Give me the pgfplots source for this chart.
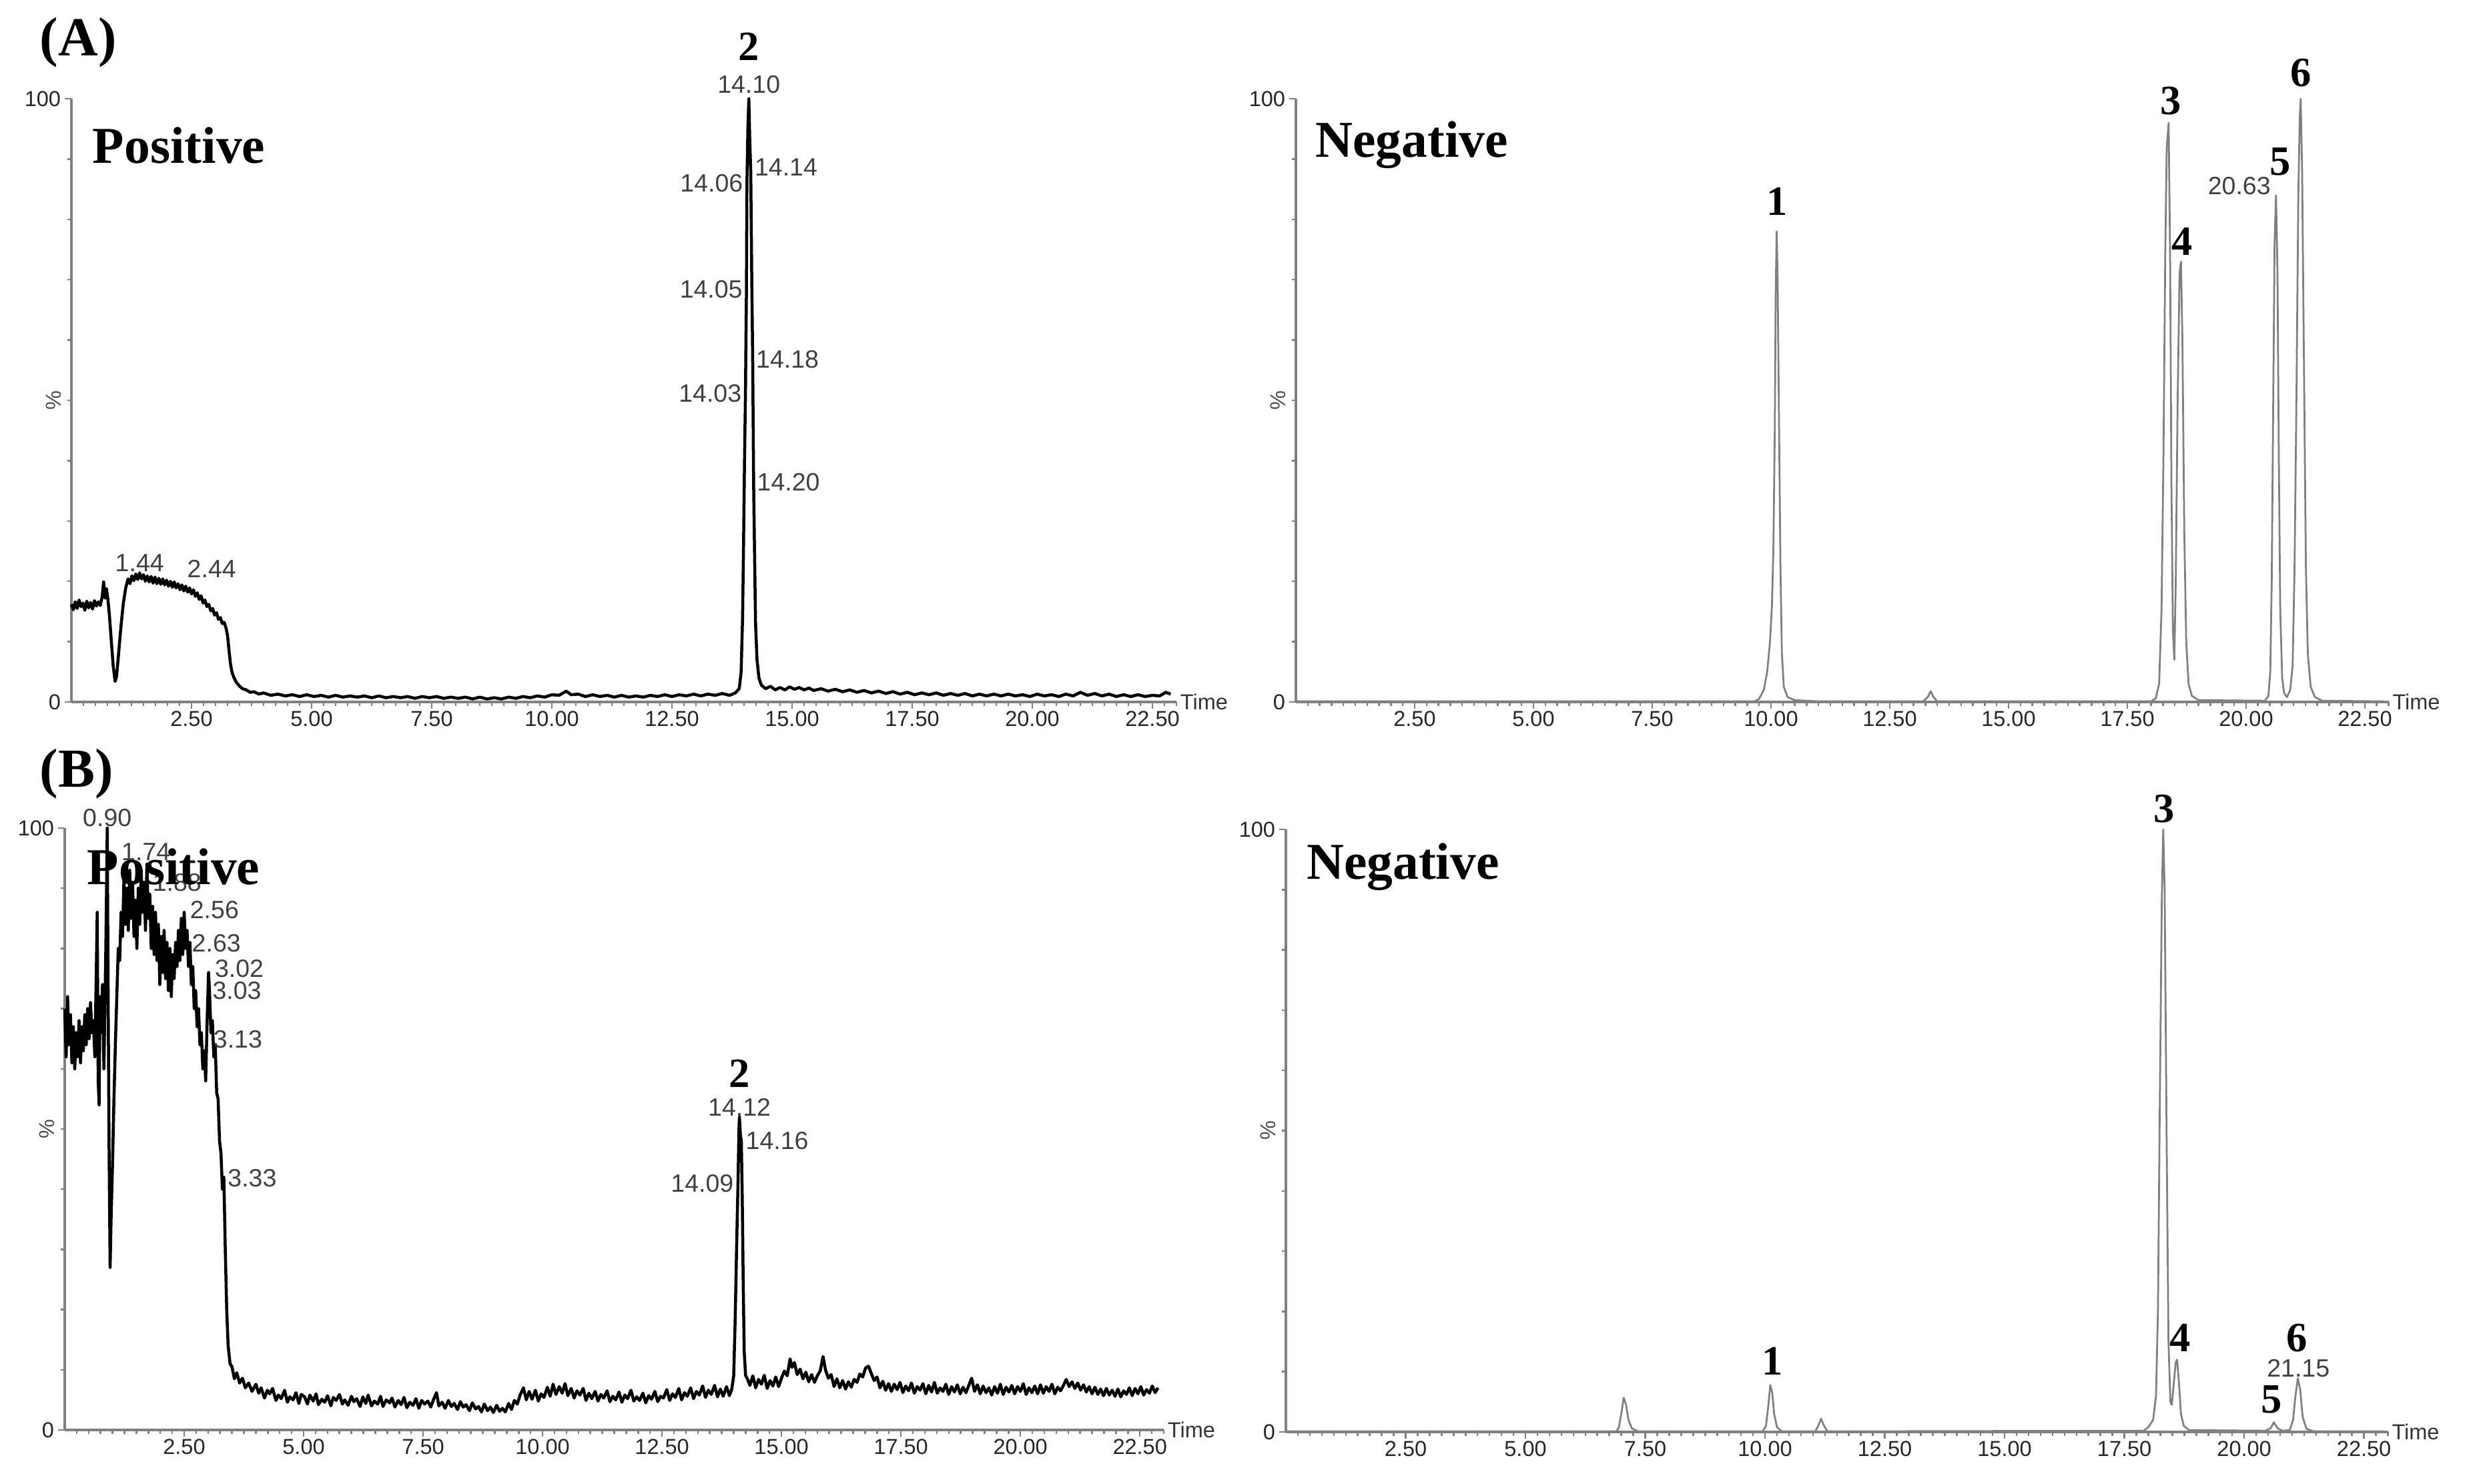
\documentclass[border=0pt]{standalone}
\usepackage{pgfplots}
\pgfplotsset{compat=1.18}
\usepackage{fontspec}
\setmainfont{Liberation Serif}
\setsansfont{Liberation Sans}
\newcommand{\tickfont}{\sffamily\fontsize{6.5}{7}\selectfont}
\newcommand{\annfont}{\sffamily\fontsize{7.5}{8}\selectfont}
\newcommand{\numfont}{\rmfamily\bfseries\fontsize{12.5}{13}\selectfont}
\newcommand{\modefont}{\rmfamily\bfseries\fontsize{15.5}{16}\selectfont}
\definecolor{axgray}{gray}{0.5}
\definecolor{trgray}{gray}{0.5}
\definecolor{anngray}{gray}{0.25}

\tikzset{
  ann/.style={font=\annfont, text=anngray, inner sep=1pt},
  num/.style={font=\numfont, inner sep=0pt},
  modelbl/.style={font=\modefont, anchor=west, inner sep=0pt},
  timelbl/.style={font=\tickfont, text=black!80, anchor=west, inner sep=1pt},
}
\pgfplotsset{
  chrom/.style={
    scale only axis,
    anchor=south west,
    xmin=0, xmax=23, ymin=0, ymax=100,
    axis x line=bottom, axis y line=left,
    axis line style={-, axgray, line width=0.7pt},
    xtick={2.5,5,7.5,10,12.5,15,17.5,20,22.5},
    xticklabels={2.50,5.00,7.50,10.00,12.50,15.00,17.50,20.00,22.50},
    minor xtick={0.25,0.5,...,23},
    ytick={0,100}, yticklabels={0,100},
    minor ytick={10,20,...,90},
    tick align=outside,
    major tick length=2pt, minor tick length=1.2pt,
    tick style={axgray, line width=0.5pt},
    tick label style={font=\tickfont, text=black!85, inner sep=1pt},
    xticklabel style={yshift=0.5pt},
    ylabel={\%},
    ylabel style={font=\tickfont, text=black!70, at={(axis description cs:-0.016,0.5)}, anchor=center},
    clip=false,
    every axis plot/.append style={line join=round, mark=none},
  },
}

\begin{document}
\begin{tikzpicture}
\useasboundingbox (0,0) rectangle (742.4pt,444.8pt);

% ---------------- (A) Positive ----------------
\begin{axis}[chrom, at={(21.4pt,234.4pt)}, width=331.2pt, height=180.8pt]
\addplot[black, line width=0.9pt] coordinates {
(0.00,16.2) (0.04,15.3) (0.08,16.6) (0.12,15.5) (0.16,16.9) (0.20,15.8) (0.24,16.4) (0.28,15.2) (0.32,16.7) (0.36,15.6) (0.40,16.5) (0.44,15.4) (0.48,16.8) (0.52,15.9) (0.56,16.6) (0.60,16.0) (0.64,17.4) (0.67,19.9) (0.70,17.2) (0.73,18.8) (0.76,17.0) (0.79,14.5) (0.83,10.2) (0.87,6.0) (0.91,3.4) (0.94,4.2) (0.98,7.8) (1.03,12.4) (1.08,16.3) (1.13,18.9) (1.18,20.4) (1.22,19.6) (1.26,20.9) (1.30,20.1) (1.34,21.2) (1.38,20.3) (1.42,21.4) (1.46,20.4) (1.50,21.1) (1.54,20.0) (1.58,20.9) (1.62,19.9) (1.66,20.8) (1.70,19.7) (1.74,20.7) (1.78,19.6) (1.82,20.5) (1.86,19.5) (1.90,20.4) (1.94,19.4) (1.98,20.2) (2.02,19.2) (2.06,20.0) (2.10,19.0) (2.14,19.9) (2.18,18.9) (2.22,19.6) (2.26,18.6) (2.30,19.4) (2.34,18.4) (2.38,19.2) (2.42,18.2) (2.46,18.9) (2.50,17.9) (2.54,18.6) (2.58,17.5) (2.62,18.1) (2.66,17.0) (2.70,17.6) (2.74,16.4) (2.78,16.9) (2.82,15.8) (2.86,16.2) (2.90,15.1) (2.94,15.5) (2.98,14.4) (3.02,14.8) (3.06,13.7) (3.10,14.0) (3.14,13.0) (3.18,13.2) (3.22,12.2) (3.25,11.0) (3.28,8.6) (3.31,6.4) (3.34,5.0) (3.38,4.1) (3.43,3.3) (3.49,2.7) (3.56,2.2) (3.64,2.0) (3.72,1.6) (3.80,1.7) (3.90,1.3) (4.00,1.5) (4.15,1.1) (4.30,1.3) (4.45,1.0) (4.60,1.2) (4.75,0.9) (4.90,1.2) (5.05,0.9) (5.20,1.1) (5.35,0.8) (5.50,1.1) (5.65,0.8) (5.80,1.0) (5.95,0.8) (6.10,1.0) (6.25,0.7) (6.40,1.0) (6.55,0.7) (6.70,0.9) (6.85,0.7) (7.00,0.9) (7.15,0.6) (7.30,0.9) (7.45,0.7) (7.60,0.9) (7.75,0.6) (7.90,0.8) (8.05,0.6) (8.20,0.8) (8.35,0.5) (8.50,0.8) (8.65,0.5) (8.80,0.7) (8.95,0.5) (9.10,0.8) (9.25,0.6) (9.40,0.9) (9.55,0.7) (9.70,1.0) (9.85,0.8) (10.00,1.2) (10.15,1.1) (10.30,1.8) (10.40,1.2) (10.55,1.3) (10.70,0.9) (10.85,1.2) (11.00,0.9) (11.15,1.1) (11.30,0.8) (11.45,1.1) (11.60,0.8) (11.75,1.0) (11.90,0.8) (12.05,1.1) (12.20,0.9) (12.35,1.2) (12.50,0.9) (12.65,1.2) (12.80,1.0) (12.95,1.3) (13.10,1.0) (13.25,1.3) (13.40,1.1) (13.55,1.4) (13.70,1.1) (13.82,1.5) (13.90,2.2) (13.94,5) (13.97,14) (13.99,26) (14.01,40) (14.03,51) (14.04,60) (14.05,68) (14.06,86) (14.08,95) (14.10,100) (14.12,93) (14.14,88) (14.16,71) (14.18,57) (14.20,36) (14.22,24) (14.24,13) (14.27,7) (14.31,4.0) (14.36,2.8) (14.45,2.2) (14.55,2.6) (14.65,2.0) (14.75,2.4) (14.85,2.0) (14.95,2.5) (15.05,2.1) (15.15,2.4) (15.25,2.0) (15.35,2.3) (15.45,1.9) (15.6,2.2) (15.75,1.8) (15.9,2.1) (16.05,1.7) (16.2,2.0) (16.35,1.6) (16.5,1.9) (16.65,1.5) (16.8,1.8) (16.95,1.4) (17.1,1.7) (17.25,1.3) (17.4,1.6) (17.55,1.2) (17.7,1.5) (17.85,1.2) (18.0,1.5) (18.15,1.1) (18.3,1.4) (18.45,1.1) (18.6,1.4) (18.75,1.0) (18.9,1.3) (19.05,1.0) (19.2,1.3) (19.35,1.0) (19.5,1.3) (19.65,1.0) (19.8,1.2) (19.95,0.9) (20.1,1.3) (20.25,1.0) (20.4,1.2) (20.55,0.9) (20.7,1.3) (20.85,1.0) (21.0,1.6) (21.15,1.1) (21.3,1.4) (21.45,1.0) (21.6,1.3) (21.75,0.9) (21.9,1.2) (22.05,0.9) (22.2,1.2) (22.35,0.9) (22.5,1.1) (22.65,1.0) (22.78,1.6) (22.88,1.3)
};
\node[modelbl] at (axis cs:0.43,92.3) {Positive};
\node[num] at (axis cs:14.10,108.6) {2};
\node[ann] at (axis cs:14.10,102.4) {14.10};
\node[ann, anchor=west] at (axis cs:14.14,88.6) {14.14};
\node[ann, anchor=east] at (axis cs:14.06,86.0) {14.06};
\node[ann, anchor=east] at (axis cs:14.05,68.4) {14.05};
\node[ann, anchor=west] at (axis cs:14.17,56.8) {14.18};
\node[ann, anchor=east] at (axis cs:14.03,51.2) {14.03};
\node[ann, anchor=west] at (axis cs:14.19,36.4) {14.20};
\node[ann] at (axis cs:1.42,23.1) {1.44};
\node[ann] at (axis cs:2.92,22.1) {2.44};
\node[timelbl] at (axis cs:23,0) {Time};
\end{axis}

% ---------------- (A) Negative ----------------
\begin{axis}[chrom, at={(388.4pt,234.4pt)}, width=327.5pt, height=180.8pt]
\addplot[trgray, line width=0.55pt] coordinates {
(0,0.1) (9.65,0.1) (9.75,0.5) (9.85,2) (9.92,5) (9.98,10) (10.02,16) (10.05,25) (10.08,45) (10.10,68) (10.12,78) (10.14,70) (10.17,46) (10.20,22) (10.23,8) (10.27,2.5) (10.35,0.8) (10.5,0.3) (11.0,0.1) (13.2,0.1) (13.3,0.8) (13.36,1.8) (13.42,0.8) (13.5,0.1) (18.0,0.1) (18.1,0.6) (18.17,3) (18.22,15) (18.26,40) (18.30,75) (18.33,92) (18.37,96) (18.40,75) (18.43,35) (18.46,12) (18.49,7) (18.52,20) (18.56,50) (18.60,71) (18.63,73) (18.66,60) (18.70,28) (18.74,10) (18.79,3) (18.86,1) (19.0,0.3) (20.4,0.2) (20.47,1) (20.51,5) (20.54,20) (20.57,48) (20.60,76) (20.63,84) (20.66,72) (20.69,40) (20.72,15) (20.76,4) (20.80,1.5) (20.86,0.8) (20.93,2) (20.98,6) (21.02,22) (21.06,50) (21.10,84) (21.13,97) (21.15,100) (21.18,88) (21.22,55) (21.26,22) (21.30,8) (21.36,2.5) (21.45,0.8) (21.6,0.2) (22.9,0.1)
};
\node[modelbl] at (axis cs:0.40,92.3) {Negative};
\node[num] at (axis cs:10.13,83.0) {1};
\node[num] at (axis cs:18.42,99.6) {3};
\node[num] at (axis cs:18.66,76.3) {4};
\node[num] at (axis cs:20.72,89.6) {5};
\node[num] at (axis cs:21.16,104.3) {6};
\node[ann, anchor=east] at (axis cs:20.60,85.5) {20.63};
\node[timelbl] at (axis cs:23,0) {Time};
\end{axis}

% ---------------- (B) Positive ----------------
\begin{axis}[chrom, at={(19.4pt,16.2pt)}, width=329.4pt, height=180.4pt]
\addplot[black, line width=0.9pt] coordinates {
(0.00,70) (0.03,62) (0.06,72) (0.09,64) (0.12,69) (0.15,61) (0.18,67) (0.21,60) (0.24,66) (0.27,62) (0.30,68) (0.33,61) (0.36,67) (0.39,63) (0.42,69) (0.45,64) (0.48,70) (0.51,65) (0.54,71) (0.57,66) (0.60,68) (0.63,62) (0.66,76) (0.68,86) (0.70,58) (0.72,54) (0.74,72) (0.76,66) (0.79,74) (0.82,60) (0.86,80) (0.89,100) (0.91,70) (0.93,45) (0.95,27) (0.97,35) (1.00,44) (1.03,55) (1.06,64) (1.09,72) (1.12,80) (1.15,78) (1.18,86) (1.21,82) (1.24,92) (1.27,84) (1.30,90) (1.33,83) (1.36,93) (1.39,85) (1.42,91) (1.45,82) (1.48,88) (1.51,80) (1.54,90) (1.57,84) (1.60,93) (1.63,86) (1.66,91) (1.69,83) (1.72,94) (1.75,85) (1.78,89) (1.81,80) (1.84,87) (1.87,79) (1.90,86) (1.93,78) (1.96,84) (1.99,74) (2.02,82) (2.05,76) (2.08,83) (2.11,75) (2.14,81) (2.17,73) (2.20,80) (2.23,72) (2.26,79) (2.29,75) (2.32,81) (2.35,77) (2.38,83) (2.41,78) (2.44,85) (2.47,79) (2.50,86) (2.53,80) (2.56,83) (2.59,77) (2.62,81) (2.65,74) (2.68,77) (2.71,70) (2.74,73) (2.77,67) (2.80,70) (2.83,64) (2.86,66) (2.89,60) (2.92,63) (2.95,58) (2.98,68) (3.01,76) (3.03,73) (3.06,66) (3.09,68) (3.12,62) (3.15,64) (3.18,56) (3.21,55) (3.24,48) (3.27,46) (3.30,40) (3.33,42) (3.36,30) (3.39,20) (3.42,14) (3.46,11) (3.50,10.5) (3.55,8.5) (3.60,9.5) (3.66,7.8) (3.72,8.6) (3.78,7.0) (3.85,7.8) (3.92,6.4)
(4.00,7.6) (4.06,6.1) (4.11,7.0) (4.18,5.3) (4.24,6.6) (4.29,6.0) (4.35,6.9) (4.42,4.9) (4.47,5.8) (4.53,5.2) (4.60,6.6) (4.66,4.6) (4.71,5.5) (4.78,5.0) (4.84,6.2) (4.90,4.4) (4.95,5.9) (5.02,5.5) (5.08,4.3) (5.13,5.8) (5.20,4.8) (5.26,6.0) (5.31,4.2) (5.38,5.1) (5.44,4.6) (5.50,5.7) (5.57,4.0) (5.62,5.4) (5.68,4.9) (5.75,5.9) (5.81,4.3) (5.86,5.0) (5.93,4.1) (6.00,5.6) (6.05,4.7) (6.11,5.2) (6.18,3.9) (6.24,5.5) (6.30,4.4) (6.35,5.8) (6.42,4.0) (6.48,4.8) (6.55,4.3) (6.61,5.6) (6.66,3.9) (6.73,5.0) (6.80,4.5) (6.85,5.3) (6.91,3.8) (6.98,4.9) (7.04,4.2) (7.10,5.4) (7.16,3.7) (7.22,4.6) (7.29,4.1) (7.35,5.2) (7.41,3.6) (7.47,4.9) (7.53,4.3) (7.60,4.8) (7.66,3.8) (7.72,5.1) (7.78,6.2) (7.83,4.0) (7.90,4.6) (7.96,3.6) (8.03,4.9) (8.09,3.9) (8.15,4.4) (8.22,3.4) (8.28,4.7) (8.34,3.8) (8.40,4.2) (8.47,3.2) (8.53,4.5) (8.60,3.5) (8.66,3.9) (8.72,3.0) (8.78,4.3) (8.85,3.2) (8.91,3.8) (8.97,2.9) (9.04,4.1) (9.10,3.1) (9.16,3.6) (9.22,3.0) (9.29,4.4) (9.35,3.4) (9.41,4.9) (9.47,4.3) (9.53,5.8) (9.60,7.0) (9.66,5.0) (9.72,6.4) (9.78,5.1) (9.85,6.6) (9.91,4.8) (9.97,6.0) (10.03,5.4) (10.10,7.1) (10.16,5.6) (10.22,7.6) (10.28,5.9) (10.35,7.2) (10.41,6.1) (10.47,7.7) (10.53,5.7) (10.60,6.9) (10.66,5.3) (10.72,6.5) (10.78,5.8) (10.85,6.9) (10.91,4.9) (10.97,6.1) (11.03,5.2) (11.10,6.4) (11.16,4.8) (11.22,5.9) (11.28,5.3) (11.35,6.5) (11.41,4.7) (11.47,5.6) (11.53,5.0) (11.60,6.3) (11.66,4.6) (11.72,5.8) (11.78,5.2) (11.85,6.6) (11.91,4.8) (11.97,5.5) (12.03,4.9) (12.10,6.1) (12.16,4.5) (12.22,5.7) (12.28,5.1) (12.35,6.4) (12.41,4.7) (12.47,5.6) (12.53,5.3) (12.60,6.7) (12.66,4.9) (12.72,6.0) (12.78,5.4) (12.85,6.9) (12.91,5.0) (12.97,6.2) (13.03,5.6) (13.10,7.0) (13.16,5.2) (13.22,6.4) (13.28,5.8) (13.35,7.3) (13.41,5.4) (13.47,6.6) (13.53,5.9) (13.60,7.4) (13.66,5.5) (13.72,6.8) (13.78,5.6) (13.85,7.2) (13.91,5.7) (13.96,6.8)
(14.00,9) (14.03,18) (14.06,30) (14.09,41) (14.11,50) (14.12,52) (14.14,49) (14.16,48) (14.18,38) (14.20,24) (14.22,13) (14.25,9)
(14.28,8.6) (14.34,7.4) (14.40,9.0) (14.46,7.0) (14.52,8.4) (14.58,7.6) (14.64,9.1) (14.70,6.9) (14.76,8.2) (14.82,7.3) (14.88,8.8) (14.94,7.2) (15.00,8.6) (15.06,9.8) (15.12,9.0) (15.18,11.8) (15.22,10.4) (15.27,11.2) (15.33,9.2) (15.39,10.1) (15.45,8.5) (15.51,9.6) (15.57,8.0) (15.63,9.2) (15.69,7.9) (15.75,9.0) (15.81,9.8) (15.87,12.2) (15.92,10.0) (15.98,8.6) (16.04,9.2) (16.10,7.2) (16.16,8.5) (16.22,7.0) (16.28,8.2) (16.34,6.8) (16.40,8.0) (16.46,7.1) (16.52,8.4) (16.58,7.9) (16.64,9.3) (16.70,8.8) (16.76,10.3) (16.82,10.6) (16.88,9.4) (16.94,8.2) (17.00,8.8) (17.06,7.0) (17.12,8.1) (17.18,6.6) (17.24,7.7) (17.30,6.4) (17.36,7.6) (17.42,6.7) (17.48,7.9) (17.54,6.2) (17.60,7.3) (17.66,6.5) (17.72,7.8) (17.78,6.1) (17.84,7.2) (17.90,6.6) (17.96,7.7) (18.02,6.0) (18.08,7.4) (18.14,6.3) (18.20,7.9) (18.26,6.1) (18.32,7.0) (18.38,6.4) (18.44,7.6) (18.50,5.9) (18.56,7.2) (18.62,6.3) (18.68,7.5) (18.74,6.0) (18.80,7.1) (18.86,6.2) (18.92,7.4) (18.98,8.6) (19.04,6.4) (19.10,7.5) (19.16,6.0) (19.22,7.3) (19.28,6.2) (19.34,7.0) (19.40,5.8) (19.46,7.2) (19.52,6.1) (19.58,7.6) (19.64,5.9) (19.70,7.1) (19.76,6.3) (19.82,7.4) (19.88,6.0) (19.94,7.2) (20.00,6.4) (20.06,7.7) (20.12,5.9) (20.18,7.0) (20.24,6.2) (20.30,7.3) (20.36,6.0) (20.42,7.5) (20.48,6.1) (20.54,7.2) (20.60,6.4) (20.66,7.6) (20.72,6.0) (20.78,7.1) (20.84,6.5) (20.90,7.4) (20.96,8.4) (21.02,7.2) (21.08,8.0) (21.14,6.9) (21.20,7.8) (21.26,6.6) (21.32,7.5) (21.38,6.3) (21.44,7.2) (21.50,6.0) (21.56,7.1) (21.62,5.9) (21.68,6.8) (21.74,5.7) (21.80,6.9) (21.86,5.8) (21.92,6.6) (21.98,5.6) (22.04,6.8) (22.10,5.5) (22.16,6.5) (22.22,5.9) (22.28,7.0) (22.34,5.7) (22.40,6.9) (22.46,6.0) (22.52,7.2) (22.58,5.8) (22.64,6.7) (22.70,6.1) (22.76,7.3) (22.82,6.2) (22.88,7.0)
};
\node[ann] at (axis cs:0.89,101.7) {0.90};
\node[ann] at (axis cs:1.70,96.0) {1.74};
\node[ann] at (axis cs:2.35,91.0) {1.88};
\node[modelbl] at (axis cs:0.46,93.6) {Positive};
\node[ann, anchor=west] at (axis cs:2.54,86.4) {2.56};
\node[ann, anchor=west] at (axis cs:2.58,80.9) {2.63};
\node[ann, anchor=west] at (axis cs:3.06,76.6) {3.02};
\node[ann, anchor=west] at (axis cs:3.01,73.0) {3.03};
\node[ann, anchor=west] at (axis cs:3.03,64.9) {3.13};
\node[ann, anchor=west] at (axis cs:3.33,41.8) {3.33};
\node[num] at (axis cs:14.12,59.2) {2};
\node[ann] at (axis cs:14.12,53.6) {14.12};
\node[ann, anchor=west] at (axis cs:14.17,48.0) {14.16};
\node[ann, anchor=east] at (axis cs:14.08,41.0) {14.09};
\node[timelbl] at (axis cs:23,0) {Time};
\end{axis}

% ---------------- (B) Negative ----------------
\begin{axis}[chrom, at={(385.4pt,15.6pt)}, width=330.3pt, height=180.6pt]
\addplot[trgray, line width=0.55pt] coordinates {
(0,0.1) (6.9,0.1) (6.95,0.8) (7.0,3) (7.05,5.7) (7.1,4.5) (7.15,2) (7.22,0.6) (7.35,0.1) (9.95,0.1) (10.02,1) (10.07,4.5) (10.11,7.8) (10.15,6.5) (10.19,3) (10.25,0.8) (10.35,0.1) (11.05,0.1) (11.12,1.2) (11.17,2.2) (11.22,1.2) (11.3,0.1) (17.9,0.2) (18.0,0.8) (18.1,2) (18.16,6) (18.20,20) (18.24,55) (18.28,88) (18.31,100) (18.34,90) (18.38,50) (18.42,15) (18.46,5) (18.49,4.5) (18.53,8) (18.57,11.5) (18.60,12) (18.64,8) (18.68,3) (18.74,1) (18.85,0.3) (20.45,0.2) (20.55,0.6) (20.62,1.6) (20.70,0.6) (20.8,0.2) (20.95,0.3) (21.02,2) (21.07,6) (21.12,8.9) (21.17,7) (21.22,2.5) (21.3,0.5) (21.45,0.1) (22.9,0.1)
};
\node[modelbl] at (axis cs:0.42,93.8) {Negative};
\node[num] at (axis cs:18.33,103.4) {3};
\node[num] at (axis cs:10.15,11.7) {1};
\node[num] at (axis cs:18.66,15.6) {4};
\node[num] at (axis cs:20.57,5.4) {5};
\node[num] at (axis cs:21.10,15.6) {6};
\node[ann] at (axis cs:21.13,10.6) {21.15};
\node[timelbl] at (axis cs:23,0) {Time};
\end{axis}

\node[font=\rmfamily\bfseries\fontsize{16.5}{17}\selectfont, anchor=west, inner sep=0pt] at (11.8pt,432pt) {(A)};
\node[font=\rmfamily\bfseries\fontsize{16.5}{17}\selectfont, anchor=west, inner sep=0pt] at (11.8pt,212.8pt) {(B)};
\end{tikzpicture}
\end{document}
